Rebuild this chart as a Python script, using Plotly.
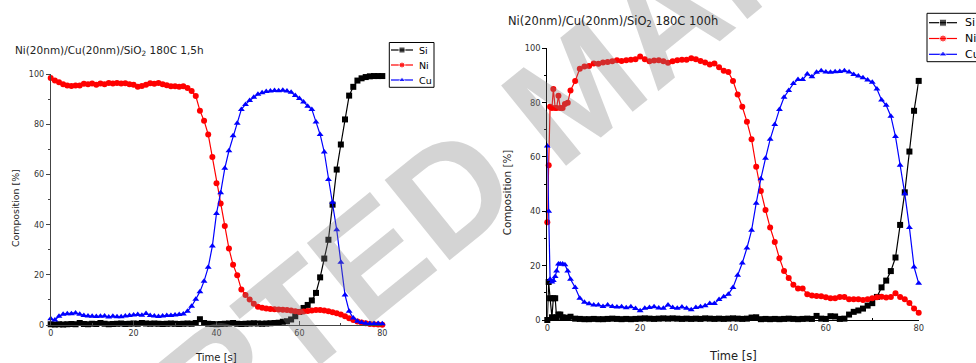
import plotly.graph_objects as go

# ---------------- data: left panel (180C 1,5h) ----------------
t_left = list(range(0, 81))
si_left = [0.3, 0.2, 0.3, 0.2, 0.3, 0.4, 0.3, 0.8, 0.4, 0.3,
           0.5, 0.4, 0.8, 0.5, 0.3, 0.4, 0.5, 0.6, 0.4, 0.5,
           0.6, 0.5, 0.8, 0.6, 0.5, 0.6, 0.5, 0.4, 0.5, 0.6,
           0.5, 0.4, 0.5, 0.6, 0.5, 0.8, 2.3, 0.8, 0.5, 0.4,
           0.3, 0.4, 0.5, 0.6, 0.8, 0.5, 0.4, 0.5, 0.6, 0.7,
           0.6, 0.5, 0.6, 0.7, 0.8, 0.9, 1.3, 1.5, 2.2, 3.5,
           5.2, 6.8, 8.0, 9.8, 12.8, 19.0, 26.5, 34.0, 48.0, 62.0,
           72.0, 82.0, 91.5, 95.0, 97.5, 98.4, 98.9, 99.2, 99.3, 99.3,
           99.3]
ni_left = [98.5, 97.5, 96.8, 96.0, 95.5, 95.3, 95.5, 95.5, 96.2, 96.0,
           96.3, 95.8, 96.3, 96.0, 96.5, 96.3, 96.5, 96.3, 96.4, 96.0,
           95.8, 95.0, 95.3, 95.8, 96.4, 96.2, 96.5, 96.0, 95.6, 95.2,
           95.2, 95.0, 95.2, 94.5, 93.3, 91.3, 85.5, 81.5, 76.0, 67.0,
           56.5, 48.5, 39.5, 30.5, 24.0, 19.8, 14.2, 12.0, 10.2, 8.5,
           7.3, 6.9, 6.6, 6.4, 6.3, 6.2, 6.1, 6.0, 5.8, 5.5,
           5.2, 5.4, 5.6, 5.8, 6.0, 6.0, 5.8, 5.5, 5.1, 4.7,
           4.2, 3.5, 2.7, 2.0, 1.4, 1.0, 0.7, 0.4, 0.3, 0.2,
           0.1]
cu_left = [2.5, 2.0, 3.5, 4.3, 4.5, 4.5, 4.8, 4.3, 3.8, 3.6,
           3.5, 3.4, 3.5, 3.6, 3.2, 3.5, 3.3, 3.3, 3.6, 3.8,
           4.0, 4.2, 3.9, 4.6, 3.8, 3.6, 3.4, 3.6, 3.8, 3.8,
           4.0, 4.2, 4.4, 5.5, 7.5, 10.3, 13.3, 17.5, 23.0, 31.5,
           44.5, 52.8, 62.5, 69.5, 75.5, 80.5, 86.0, 88.0, 89.5, 90.8,
           92.0, 92.6, 93.1, 93.3, 93.5, 93.4, 93.6, 93.3, 92.8, 91.5,
           90.3, 89.0, 87.3, 86.0, 81.0, 76.0, 69.0, 58.0, 49.0, 38.0,
           25.0, 12.0, 5.5, 2.8, 1.5, 1.0, 0.7, 0.6, 0.6, 0.6,
           0.5]

# ---------------- data: right panel (180C 100h) ----------------
t_right = [0, 0.3, 0.6, 1.0, 1.3, 1.7, 2.0, 2.4, 2.8, 3.3, 3.8, 4.4, 5.0] + list(range(6, 81))
si_right = [0.0, 14.0, 8.0, 1.0, 8.0, 8.0, 1.0, 2.0, 2.0, 1.0, 0.8, 0.8, 1.2,
            0.5, 0.4, 0.3, 0.3, 0.4, 0.3, 0.3, 0.4, 0.5, 0.4,
            0.3, 0.4, 0.3, 0.4, 0.5, 0.6, 0.5, 0.4, 0.5, 0.6,
            0.5, 0.6, 0.5, 0.4, 0.5, 0.4, 0.5, 0.4, 0.6, 0.5,
            0.4, 0.5, 0.4, 0.5, 0.6, 0.5, 0.4, 0.5, 0.9, 1.0,
            0.3, 0.4, 0.3, 0.4, 0.3, 0.4, 0.5, 0.4, 0.3, 0.4,
            0.5, 0.4, 1.5, 0.5, 0.4, 1.4, 1.3, 0.4, 0.5, 2.0,
            3.0, 3.5, 4.2, 5.3, 6.2, 8.5, 12.0, 14.5, 18.0, 23.0,
            35.0, 47.0, 62.0, 77.0, 88.0]
ni_right = [36.0, 57.0, 78.5, 78.0, 85.0, 78.0, 78.0, 82.5, 78.0, 78.0, 79.5, 80.0, 84.5,
            88.0, 92.5, 93.3, 93.5, 94.4, 94.3, 94.8, 95.0, 95.2, 95.6,
            95.3, 95.6, 95.8, 96.0, 97.0, 96.0, 95.2, 95.5, 95.6, 95.2,
            94.7, 95.2, 95.6, 95.8, 95.8, 96.3, 96.0, 95.3, 94.8, 94.0,
            94.4, 93.0, 91.7, 91.3, 88.0, 83.0, 78.5, 73.0, 66.5, 56.4,
            47.5, 40.5, 34.0, 28.7, 22.7, 18.0, 15.5, 13.0, 11.6, 11.6,
            9.5, 9.0, 8.8, 8.7, 8.4, 8.0, 8.0, 8.5, 8.5, 7.6,
            7.6, 7.6, 7.4, 7.6, 8.0, 8.4, 8.6, 8.3, 8.5, 9.8,
            8.5, 7.6, 6.3, 4.2, 2.7]
cu_right = [64.0, 40.0, 15.0, 14.0, 14.5, 16.0, 18.0, 20.6, 20.6, 20.6, 20.3, 18.0, 15.0,
            12.0, 8.0, 6.5, 6.0, 5.5, 5.5, 5.0, 5.5, 5.0, 4.8,
            4.9, 4.5, 4.9, 4.2, 3.4, 4.3, 4.6, 4.9, 4.4, 4.3,
            5.5, 4.6, 4.3, 4.8, 4.3, 3.8, 4.6, 4.9, 5.2, 6.1,
            6.1, 7.5, 8.6, 9.5, 12.0, 16.5, 21.0, 26.5, 33.0, 43.0,
            52.0, 59.5, 66.5, 72.0, 77.5, 82.0, 84.5, 87.0, 88.5, 88.5,
            90.5, 89.5, 91.2, 91.7, 91.3, 91.2, 91.4, 91.5, 91.7, 91.3,
            90.4, 89.8, 89.2, 88.3, 87.5, 85.0, 81.0, 79.0, 75.0, 67.5,
            57.0, 46.5, 34.0, 19.5, 13.5]

x_ticks = [0, 20, 40, 60, 80]
y_ticks = [0, 20, 40, 60, 80, 100]
title_left = "Ni(20nm)/Cu(20nm)/SiO<sub>2</sub> 180C 1,5h"
title_right = "Ni(20nm)/Cu(20nm)/SiO<sub>2</sub> 180C 100h"
watermark = "ACCEPTED MANUSCRIPT"
series_names = ["Si", "Ni", "Cu"]
series_colors = ["#000000", "#ff0000", "#0000ff"]
series_symbols = ["square", "circle", "triangle-up"]

W, H = 976, 363
FONT = "DejaVu Sans, Liberation Sans, sans-serif"
WM_FONT = "Liberation Sans, Arial, sans-serif"

fig = go.Figure()

left_sets = [si_left, ni_left, cu_left]
right_sets = [si_right, ni_right, cu_right]
for i in range(3):
    fig.add_trace(go.Scatter(
        x=t_left, y=left_sets[i], name=series_names[i], mode="lines+markers",
        line=dict(color=series_colors[i], width=1.2),
        marker=dict(symbol=series_symbols[i], size=6, color=series_colors[i]),
        xaxis="x", yaxis="y", showlegend=False, cliponaxis=False))
for i in range(3):
    fig.add_trace(go.Scatter(
        x=t_right, y=right_sets[i], name=series_names[i], mode="lines+markers",
        line=dict(color=series_colors[i], width=1.2),
        marker=dict(symbol=series_symbols[i], size=6, color=series_colors[i]),
        xaxis="x2", yaxis="y2", showlegend=False, cliponaxis=False))


def px_x(p):
    return p / W


def px_y(p):
    return 1 - p / H


shapes = []
ann = []


def add_legend(x0, y0, x1, y1, row_ys, line_x0, line_x1, text_x, fsize, msize):
    """Legend key box drawn in pixel space on the overlay axis x3/y3."""
    shapes.append(dict(type="rect", xref="paper", yref="paper",
                       x0=px_x(x0), x1=px_x(x1), y0=px_y(y1), y1=px_y(y0),
                       line=dict(color="#000000", width=1), fillcolor="rgba(0,0,0,0)"))
    for i, ry in enumerate(row_ys):
        mid = (line_x0 + line_x1) / 2
        fig.add_trace(go.Scatter(
            x=[line_x0, mid, line_x1], y=[ry, ry, ry], mode="lines+markers",
            line=dict(color=series_colors[i], width=1.2),
            marker=dict(symbol=series_symbols[i], size=[0, msize, 0], color=series_colors[i]),
            xaxis="x3", yaxis="y3", showlegend=False, cliponaxis=False, hoverinfo="skip"))
        ann.append(dict(text=series_names[i], xref="paper", yref="paper",
                        x=px_x(text_x), y=px_y(ry), xanchor="left", yanchor="middle",
                        showarrow=False, font=dict(family=FONT, size=fsize, color="#000000")))


axis_common = dict(showgrid=False, zeroline=False, showline=True, linewidth=1,
                   ticklen=4, tickwidth=1)

fig.update_layout(
    width=W, height=H, margin=dict(l=0, r=0, t=0, b=0, autoexpand=False),
    paper_bgcolor="white", plot_bgcolor="rgba(0,0,0,0)",
    font=dict(family=FONT, size=9, color="#222222"),
    showlegend=False,
    xaxis=dict(domain=[px_x(50.7), px_x(382.3)], range=[0, 80], anchor="y",
               tickvals=x_ticks, ticks="inside", linecolor="#444444", tickcolor="#444444",
               tickfont=dict(family=FONT, size=8, color="#333333"),
               minor=dict(dtick=10, ticks="inside", ticklen=2, tickcolor="#444444"),
               **axis_common),
    yaxis=dict(domain=[px_y(325), px_y(74.3)], range=[0, 100], anchor="x",
               tickvals=y_ticks, ticks="outside", linecolor="#444444", tickcolor="#444444",
               tickfont=dict(family=FONT, size=8, color="#333333"),
               minor=dict(dtick=10, ticks="outside", ticklen=2, tickcolor="#444444"),
               **axis_common),
    xaxis2=dict(domain=[px_x(547.3), px_x(918.7)], range=[0, 80], anchor="y2",
                tickvals=x_ticks, ticks="inside", linecolor="#000000", tickcolor="#000000",
                tickfont=dict(family=FONT, size=8.3, color="#333333"),
                minor=dict(dtick=10, ticks="inside", ticklen=2, tickcolor="#000000"),
                **axis_common),
    yaxis2=dict(domain=[px_y(320), px_y(48.3)], range=[0, 100], anchor="x2",
                tickvals=y_ticks, ticks="outside", linecolor="#000000", tickcolor="#000000",
                tickfont=dict(family=FONT, size=8.3, color="#333333"),
                minor=dict(dtick=10, ticks="outside", ticklen=2, tickcolor="#000000"),
                **axis_common),
    # pixel-space overlay used only for legend keys
    xaxis3=dict(domain=[0, 1], range=[0, W], visible=False, anchor="y3"),
    yaxis3=dict(domain=[0, 1], range=[H, 0], visible=False, anchor="x3"),
)

# legends
add_legend(389.3, 42.5, 434, 87.3, [50, 65, 80], 391, 413, 417, 9.5, 6)
add_legend(927, 13.3, 990, 61.7, [22.7, 38.5, 54.3], 929, 957, 963, 11, 7)

# watermark
ann.append(dict(text="<b>" + watermark + "</b>", xref="paper", yref="paper",
                x=px_x(577), y=px_y(90), xanchor="center", yanchor="middle",
                showarrow=False, textangle=-39,
                font=dict(family=WM_FONT, size=150, color="rgba(128,128,128,0.34)")))
# panel titles
ann.append(dict(text=title_left, xref="paper", yref="paper", x=px_x(13), y=px_y(50.5),
                xanchor="left", yanchor="middle", showarrow=False,
                font=dict(family=FONT, size=10.5, color="#222222")))
ann.append(dict(text=title_right, xref="paper", yref="paper", x=px_x(506), y=px_y(21.7),
                xanchor="left", yanchor="middle", showarrow=False,
                font=dict(family=FONT, size=11.5, color="#222222")))
# axis titles
for (xx, yy, fs) in [(15, 208, 9.4), (506.7, 192.5, 10.3)]:
    ann.append(dict(text="Composition [%]", xref="paper", yref="paper", x=px_x(xx), y=px_y(yy),
                    xanchor="center", yanchor="middle", showarrow=False, textangle=-90,
                    font=dict(family=FONT, size=fs, color="#222222")))
for (xx, yy, fs) in [(216, 357, 10), (732.8, 355.7, 11.5)]:
    ann.append(dict(text="Time [s]", xref="paper", yref="paper", x=px_x(xx), y=px_y(yy),
                    xanchor="center", yanchor="middle", showarrow=False,
                    font=dict(family=FONT, size=fs, color="#222222")))

fig.update_layout(annotations=ann, shapes=shapes)

fig.write_html("out.html")
